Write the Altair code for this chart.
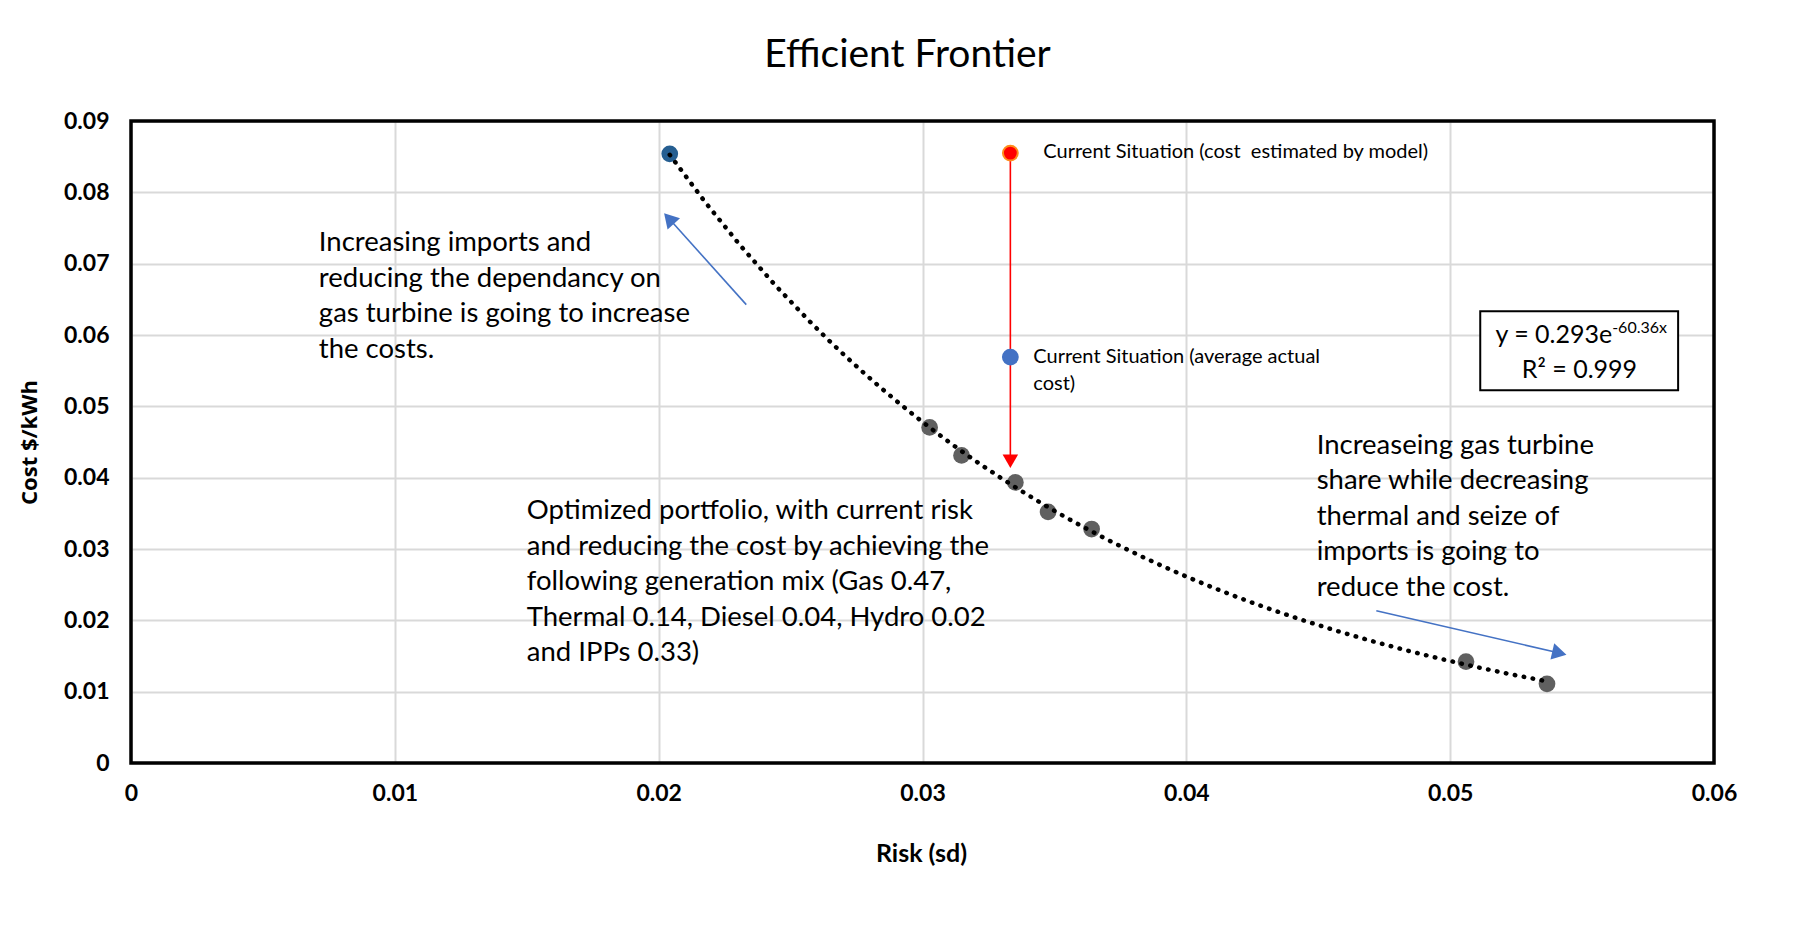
import altair as alt
import pandas as pd

# ---------------- data ----------------
frontier_risk = [0.02042, 0.03027, 0.03148, 0.03352, 0.03476, 0.03641, 0.0506, 0.05367]
frontier_cost = [0.0854, 0.04705, 0.04312, 0.03933, 0.0352, 0.0328, 0.0142, 0.0111]
frontier_kind = ["first", "mix", "mix", "mix", "mix", "mix", "mix", "mix"]

current_risk = [0.03333, 0.03333]
current_cost = [0.0855, 0.0569]
current_kind = ["model", "actual"]

# red arrow (model estimate -> optimized)
red_arrow_x = [0.03333]
red_arrow_y = [0.0855]
red_arrow_y2 = [0.0423]

# blue annotation arrows: tail -> head
blue_tail_x = [0.02332, 0.0472]
blue_tail_y = [0.06426, 0.02135]
blue_head_x = [0.02039, 0.05414]
blue_head_y = [0.07633, 0.01542]
blue_head_angle = [318, 103]

# annotation texts
big_text = [
    ["Increasing imports and", "reducing the dependancy on",
     "gas turbine is going to increase", "the costs."],
    ["Optimized portfolio, with current risk", "and reducing the cost by achieving the",
     "following generation mix (Gas 0.47,", "Thermal 0.14, Diesel 0.04, Hydro 0.02",
     "and IPPs 0.33)"],
    ["Increaseing gas turbine", "share while decreasing", "thermal and seize of",
     "imports is going to", "reduce the cost."],
]
big_text_x = [0.00712, 0.0150, 0.04494]
big_text_y = [0.07296, 0.03539, 0.04456]

small_text = [["Current Situation (cost\u00a0\u00a0estimated by model)"],
              ["Current Situation (average actual", "cost)"]]
small_text_x = [0.03458, 0.0342]
small_text_y = [0.08567, 0.05688]

# equation box
eq_box_x = [0.05114]
eq_box_x2 = [0.05864]
eq_box_y = [0.06334]
eq_box_y2 = [0.05225]
eq_main = "y = 0.293e"
eq_sup = "-60.36x"
eq_r2 = "R\u00b2 = 0.999"
eq_main_xy = (0.05614, 0.0600)
eq_sup_xy = (0.05614, 0.0610)
eq_r2_xy = (0.0549, 0.05513)

x_ticks = [0, 0.01, 0.02, 0.03, 0.04, 0.05, 0.06]
y_ticks = [0, 0.01, 0.02, 0.03, 0.04, 0.05, 0.06, 0.07, 0.08, 0.09]
x_domain = [0, 0.06]
y_domain = [0, 0.09]

# ---------------- scales ----------------
xs = alt.Scale(domain=x_domain, nice=False, zero=True)
ys = alt.Scale(domain=y_domain, nice=False, zero=True)

FONT = "Lato"

xax = alt.Axis(values=x_ticks, format="~g", labelFont=FONT, labelFontWeight="bold",
               labelFontSize=23, labelColor="black", labelPadding=19, labelFlush=False,
               grid=True, gridColor="#d9d9d9", gridWidth=2, domain=False, ticks=False,
               title="Risk (sd)", titleFont=FONT, titleFontSize=25, titleFontWeight="bold",
               titleColor="black", titleX=790, titleY=90, titleBaseline="middle",
               titleAnchor="middle", titleAlign="center")
yax = alt.Axis(values=y_ticks, format="~g", labelFont=FONT, labelFontWeight="bold",
               labelFontSize=23, labelColor="black", labelPadding=22, labelFlush=False,
               grid=True, gridColor="#d9d9d9", gridWidth=2, domain=False, ticks=False,
               title="Cost $/kWh", titleFont="Open Sans", titleFontSize=22,
               titleFontWeight="bold", titleColor="black", titleX=-102, titleY=321,
               titleAngle=-90, titleBaseline="middle", titleAlign="center")

front_df = pd.DataFrame({"risk": frontier_risk, "cost": frontier_cost, "kind": frontier_kind})
cur_df = pd.DataFrame({"risk": current_risk, "cost": current_cost, "kind": current_kind})

base_axes = alt.Chart(front_df).mark_point(opacity=0).encode(
    x=alt.X("risk:Q", scale=xs, axis=xax),
    y=alt.Y("cost:Q", scale=ys, axis=yax),
)

points = alt.Chart(front_df).mark_circle(size=280, opacity=1).encode(
    x=alt.X("risk:Q", scale=xs),
    y=alt.Y("cost:Q", scale=ys),
    color=alt.Color("kind:N", scale=alt.Scale(domain=["first", "mix"],
                                               range=["#255e91", "#606060"]), legend=None),
)

trend = alt.Chart(front_df).transform_regression(
    "risk", "cost", method="exp"
).mark_line(color="black", strokeWidth=4.5, strokeDash=[0.5, 8.6], strokeCap="round").encode(
    x=alt.X("risk:Q", scale=xs),
    y=alt.Y("cost:Q", scale=ys),
)

red_df = pd.DataFrame({"x": red_arrow_x, "y": red_arrow_y, "y2": red_arrow_y2})
red_line = alt.Chart(red_df).mark_rule(color="#ff0000", strokeWidth=1.6).encode(
    x=alt.X("x:Q", scale=xs), y=alt.Y("y:Q", scale=ys), y2="y2:Q")
red_head = alt.Chart(red_df).mark_point(shape="triangle-down", filled=True, color="#ff0000",
                                        size=240, opacity=1).encode(
    x=alt.X("x:Q", scale=xs), y=alt.Y("y2:Q", scale=ys))

cur_pts = alt.Chart(cur_df).mark_point(filled=True, size=220, opacity=1, strokeWidth=2).encode(
    x=alt.X("risk:Q", scale=xs),
    y=alt.Y("cost:Q", scale=ys),
    fill=alt.Fill("kind:N", scale=alt.Scale(domain=["model", "actual"],
                                            range=["#ff0000", "#4472c4"]), legend=None),
    stroke=alt.Stroke("kind:N", scale=alt.Scale(domain=["model", "actual"],
                                                range=["#ff8c1a", "#4472c4"]), legend=None),
    shape=alt.value("circle"),
)

blue_df = pd.DataFrame({"x": blue_tail_x, "y": blue_tail_y, "x2": blue_head_x,
                        "y2": blue_head_y, "ang": blue_head_angle})
blue_line = alt.Chart(blue_df).mark_rule(color="#4472c4", strokeWidth=1.6).encode(
    x=alt.X("x:Q", scale=xs), y=alt.Y("y:Q", scale=ys), x2="x2:Q", y2="y2:Q")
blue_head = alt.Chart(blue_df).mark_point(shape="triangle-up", filled=True, color="#4472c4",
                                          size=280, opacity=1).encode(
    x=alt.X("x2:Q", scale=xs), y=alt.Y("y2:Q", scale=ys),
    angle=alt.Angle("ang:Q", scale=None))

big_df = pd.DataFrame({"x": big_text_x, "y": big_text_y,
                       "t": ["\n".join(t) for t in big_text]})
big_txt = alt.Chart(big_df).mark_text(font=FONT, fontSize=27.5, align="left", baseline="top",
                                      lineBreak="\n", lineHeight=35.6, dy=-13.5,
                                      color="black").encode(
    x=alt.X("x:Q", scale=xs), y=alt.Y("y:Q", scale=ys), text="t:N")

small_df = pd.DataFrame({"x": small_text_x, "y": small_text_y,
                         "t": ["\n".join(t) for t in small_text]})
small_txt = alt.Chart(small_df).mark_text(font=FONT, fontSize=20, align="left", baseline="top",
                                          lineBreak="\n", lineHeight=27, dy=-10,
                                          color="black").encode(
    x=alt.X("x:Q", scale=xs), y=alt.Y("y:Q", scale=ys), text="t:N")

box_df = pd.DataFrame({"x": eq_box_x, "x2": eq_box_x2, "y": eq_box_y, "y2": eq_box_y2})
eq_box = alt.Chart(box_df).mark_rect(fill="white", stroke="black", strokeWidth=2).encode(
    x=alt.X("x:Q", scale=xs), x2="x2:Q", y=alt.Y("y:Q", scale=ys), y2="y2:Q")

eq_df = pd.DataFrame({
    "x": [eq_main_xy[0], eq_sup_xy[0], eq_r2_xy[0]],
    "y": [eq_main_xy[1], eq_sup_xy[1], eq_r2_xy[1]],
    "t": [eq_main, eq_sup, eq_r2],
    "part": ["main", "sup", "r2"],
})
eq_main_txt = alt.Chart(eq_df).transform_filter(alt.datum.part == "main").mark_text(
    font=FONT, fontSize=25, align="right", baseline="middle", color="black").encode(
    x=alt.X("x:Q", scale=xs), y=alt.Y("y:Q", scale=ys), text="t:N")
eq_sup_txt = alt.Chart(eq_df).transform_filter(alt.datum.part == "sup").mark_text(
    font=FONT, fontSize=16, align="left", baseline="middle", color="black").encode(
    x=alt.X("x:Q", scale=xs), y=alt.Y("y:Q", scale=ys), text="t:N")
eq_r2_txt = alt.Chart(eq_df).transform_filter(alt.datum.part == "r2").mark_text(
    font=FONT, fontSize=25, align="center", baseline="middle", color="black").encode(
    x=alt.X("x:Q", scale=xs), y=alt.Y("y:Q", scale=ys), text="t:N")

# plot frame drawn over the edge gridlines
frame = alt.Chart(pd.DataFrame({"a": [0]})).mark_rect(
    fill=None, stroke="black", strokeWidth=3.5).encode(
    x=alt.datum(x_domain[0], scale=xs), x2=alt.datum(x_domain[1]),
    y=alt.datum(y_domain[0], scale=ys), y2=alt.datum(y_domain[1]))

chart = alt.layer(
    base_axes, blue_line, blue_head, red_line, red_head, cur_pts, points, trend,
    big_txt, small_txt, eq_box, eq_main_txt, eq_sup_txt, eq_r2_txt, frame,
).properties(
    width=1583, height=642,
    title=alt.TitleParams("Efficient Frontier", font=FONT, fontSize=39, fontWeight="normal",
                          color="black", anchor="middle", offset=35, dx=-15),
    padding={"left": 123, "top": 113, "right": 60, "bottom": 130},
    autosize=alt.AutoSizeParams(type="none"),
).configure_view(
    stroke=None
).configure(background="white")

chart.save("out.html", embed_options={"renderer": "svg", "actions": False})
